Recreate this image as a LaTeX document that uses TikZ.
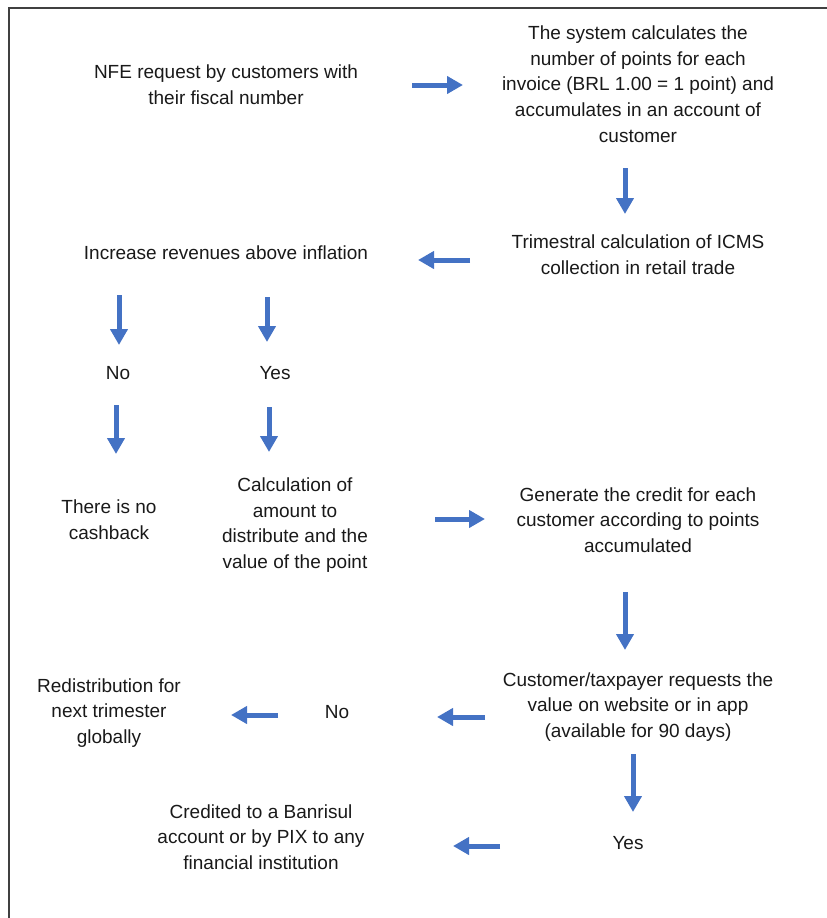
\documentclass[tikz,border=0pt]{standalone}
\usepackage{fontspec}
\setmainfont{Liberation Sans}
\usetikzlibrary{arrows.meta}
\definecolor{arrowblue}{HTML}{4472C4}
\definecolor{framegray}{HTML}{404040}
\begin{document}
\begin{tikzpicture}[x=1pt,y=-1pt,
  txt/.style={align=center,inner sep=0pt,font=\fontsize{19}{25.7}\selectfont,text=black!90},
  flow/.style={draw=arrowblue,line width=5pt,-{Triangle[width=17pt,length=16pt]}},
  frameline/.style={draw=framegray,line width=2pt}]
\useasboundingbox (0,0) rectangle (827,918);
% frame
\coordinate (fbl) at (9,918);
\coordinate (ftl) at (9,8);
\coordinate (ftr) at (827,8);
\draw[frameline] (fbl) -- (ftl) -- (ftr);
% texts
\node[txt] (nfe) at (226,85) {NFE request by customers with\\their fiscal number};
\node[txt] (sys) at (638,84) {The system calculates the\\number of points for each\\invoice (BRL 1.00 = 1 point) and\\accumulates in an account of\\customer};
\node[txt] (tri) at (638,255) {Trimestral calculation of ICMS\\collection in retail trade};
\node[txt] (inc) at (226,253) {Increase revenues above inflation};
\node[txt] (no1) at (118,373) {No};
\node[txt] (yes1) at (275,373) {Yes};
\node[txt] (nocash) at (109,520) {There is no\\cashback};
\node[txt] (calc) at (295,525) {Calculation of\\amount to\\distribute and the\\value of the point};
\node[txt] (gen) at (638,520) {Generate the credit for each\\customer according to points\\accumulated};
\node[txt] (cust) at (638,707) {Customer/taxpayer requests the\\value on website or in app\\(available for 90 days)};
\node[txt] (no2) at (337,712) {No};
\node[txt] (redis) at (109,713) {Redistribution for\\next trimester\\globally};
\node[txt] (yes2) at (628,843) {Yes};
\node[txt] (cred) at (261,837) {Credited to a Banrisul\\account or by PIX to any\\financial institution};
% arrow end points
\coordinate (a1s) at (412,85);  \coordinate (a1e) at (463,85);
\coordinate (a2s) at (625,168); \coordinate (a2e) at (625,214);
\coordinate (a3s) at (470,260); \coordinate (a3e) at (418,260);
\coordinate (a4s) at (119,295); \coordinate (a4e) at (119,345);
\coordinate (a5s) at (267,297); \coordinate (a5e) at (267,342);
\coordinate (a6s) at (116,405); \coordinate (a6e) at (116,454);
\coordinate (a7s) at (269,407); \coordinate (a7e) at (269,452);
\coordinate (a8s) at (435,519); \coordinate (a8e) at (485,519);
\coordinate (a9s) at (625,592); \coordinate (a9e) at (625,650);
\coordinate (a10s) at (485,717); \coordinate (a10e) at (437,717);
\coordinate (a11s) at (278,715); \coordinate (a11e) at (231,715);
\coordinate (a12s) at (633,754); \coordinate (a12e) at (633,812);
\coordinate (a13s) at (500,846); \coordinate (a13e) at (453,846);
\draw[flow] (a1s) -- (a1e);
\draw[flow] (a2s) -- (a2e);
\draw[flow] (a3s) -- (a3e);
\draw[flow] (a4s) -- (a4e);
\draw[flow] (a5s) -- (a5e);
\draw[flow] (a6s) -- (a6e);
\draw[flow] (a7s) -- (a7e);
\draw[flow] (a8s) -- (a8e);
\draw[flow] (a9s) -- (a9e);
\draw[flow] (a10s) -- (a10e);
\draw[flow] (a11s) -- (a11e);
\draw[flow] (a12s) -- (a12e);
\draw[flow] (a13s) -- (a13e);
\end{tikzpicture}
\end{document}
